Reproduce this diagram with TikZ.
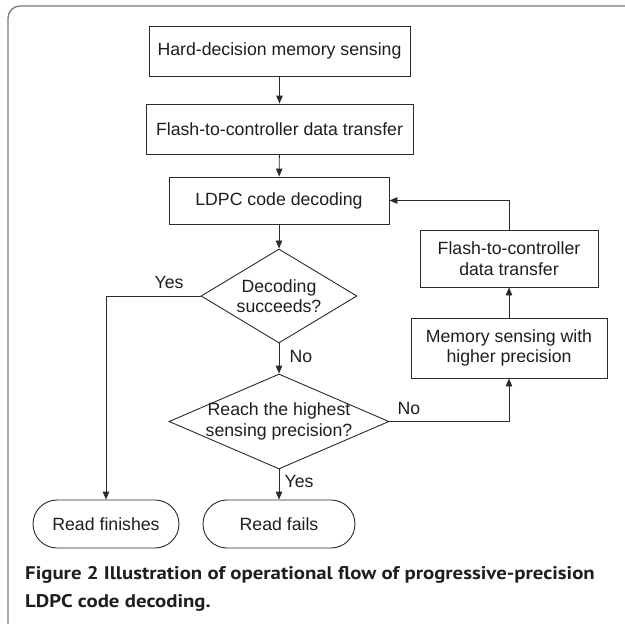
\documentclass[tikz,border=0pt]{standalone}
\usepackage{graphicx}
\usepackage{fontspec}
\setmainfont{Liberation Sans}
\newfontfamily\capfont{PT Sans}
\usetikzlibrary{arrows.meta,shapes.geometric}
\definecolor{ln}{HTML}{2A2A2A}
\definecolor{txt}{HTML}{1E1E1E}
\definecolor{framecol}{HTML}{7A7A7A}
\newcommand{\captionwide}[1]{\scalebox{1.137}[1]{#1}}
\begin{document}
\begin{tikzpicture}[x=1pt,y=-1pt,
  every node/.style={font=\fontsize{17.7}{20.5}\selectfont, text=txt},
  box/.style={draw=ln, line width=0.9pt, inner sep=0pt, align=center},
  cond/.style={draw=ln, line width=0.9pt, diamond, inner sep=0pt},
  term/.style={draw=ln, line width=0.9pt, rounded corners=24pt, inner sep=0pt,
               minimum height=48pt},
  flow/.style={draw=ln, line width=0.9pt, -{Triangle[length=8pt,width=6.5pt]}},
  lbl/.style={inner sep=0pt},
  captext/.style={inner sep=0pt, anchor=base west,
                  font=\capfont\bfseries\fontsize{18.3}{22}\selectfont}]

\useasboundingbox (0,0) rectangle (625,624);
\clip (0,0) rectangle (625,624);

% panel frame, running off the right and bottom edges
\draw[framecol, line width=1.3pt, rounded corners=12pt]
  (8,660) -- (8,6) -- (660,6);

% main column
\node[box, minimum width=261pt, minimum height=50pt] (sense) at (279.5,51)
  {Hard-decision memory sensing};
\node[box, minimum width=267pt, minimum height=50pt] (xfer) at (279.5,129)
  {Flash-to-controller data transfer};
\node[box, minimum width=220pt, minimum height=47pt] (ldpc) at (279,200.5)
  {LDPC code decoding};

\node[cond, minimum width=156pt, minimum height=94pt] (ok) at (279,296) {};
\node[lbl, align=center] (oktext) at (279,296) {Decoding\\succeeds?};

\node[cond, minimum width=220pt, minimum height=95pt] (top) at (279,421.5) {};
\node[lbl, align=center] (toptext) at (279,421.5) {Reach the highest\\sensing precision?};

\node[term, minimum width=146pt] (done) at (106,524) {Read finishes};
\node[term, minimum width=152pt] (fail) at (279,524) {Read fails};

% retry branch
\node[box, minimum width=196pt, minimum height=60pt] (resense) at (509,348)
  {Memory sensing with\\higher precision};
\node[box, minimum width=178pt, minimum height=57pt] (rexfer) at (509,258.5)
  {Flash-to-controller\\data transfer};

\coordinate (yescorner) at (106,296);
\coordinate (nocorner) at (509,421.5);
\coordinate (backcorner) at (509,200.5);

% connectors
\draw[flow] (sense) -- (xfer);
\draw[flow] (xfer) -- (ldpc);
\draw[flow] (ldpc) -- (ok);
\draw[flow] (ok) -- (top);
\draw[flow] (ok.west) -- (yescorner) -- (done);
\draw[flow] (top) -- (fail);
\draw[flow] (top.east) -- (nocorner) -- (resense);
\draw[flow] (resense) -- (rexfer);
\draw[flow] (rexfer) -- (backcorner) -- (ldpc.east);

% branch labels
\node[lbl] (yes1) at (169,282) {Yes};
\node[lbl] (no1) at (301,356) {No};
\node[lbl] (yes2) at (299,481) {Yes};
\node[lbl] (no2) at (409,408) {No};

% caption
\node[captext] (cap1) at (25,579)
  {\captionwide{Figure 2 Illustration of operational flow of progressive-precision}};
\node[captext] (cap2) at (25,607) {\captionwide{LDPC code decoding.}};
\end{tikzpicture}
\end{document}
